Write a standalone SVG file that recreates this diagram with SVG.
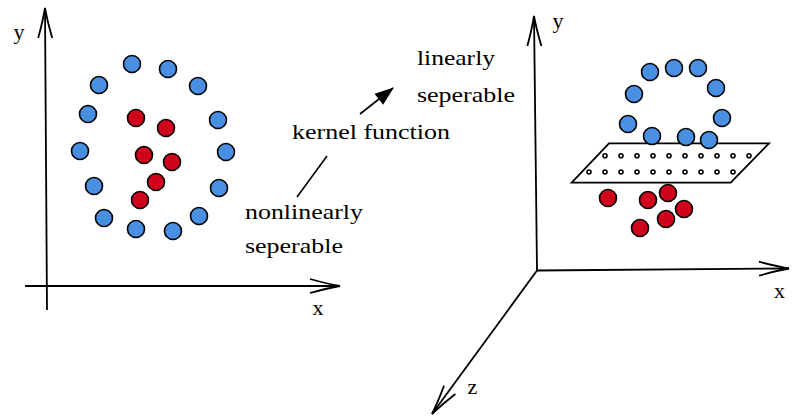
<svg xmlns="http://www.w3.org/2000/svg" width="792" height="417" viewBox="0 0 792 417">
<style>
.ax{stroke:#000;stroke-width:1.8;fill:none}
.b{fill:#4a90e2;stroke:#000;stroke-width:1.6}
.r{fill:#d0021b;stroke:#000;stroke-width:1.6}
.d{fill:#fff;stroke:#000;stroke-width:1.6}
text{font-family:'Liberation Serif','DejaVu Serif','Times New Roman',serif;font-size:22px;fill:#000}
</style>
<defs>
<marker id="chev" markerUnits="userSpaceOnUse" viewBox="-32 -9 34 18" refX="0" refY="0" markerWidth="34" markerHeight="18" orient="auto" overflow="visible">
<path d="M-30,-7 Q-12,-2 0,0 Q-12,2 -30,7" fill="none" stroke="#000" stroke-width="1.8"/>
</marker>
<marker id="tri" markerUnits="userSpaceOnUse" viewBox="-20 -8 21 16" refX="0" refY="0" markerWidth="21" markerHeight="16" orient="auto" overflow="visible">
<path d="M1,0 L-18,-7 L-18,7 Z" fill="#000"/>
</marker>
</defs>
<rect width="792" height="417" fill="#fff"/>
<g id="connectors">
<path class="ax" d="M47,310 L45,8" marker-end="url(#chev)"/>
<path class="ax" d="M25,286 L340,286" marker-end="url(#chev)"/>
<path class="ax" d="M537,270.5 L534,16" marker-end="url(#chev)"/>
<path class="ax" d="M537,270.5 L789,268.5" marker-end="url(#chev)"/>
<path class="ax" d="M537,270.5 L432,414" marker-end="url(#chev)"/>
<path d="M327,156 L297,197" stroke="#000" stroke-width="1.6"/>
<path d="M360,114 L393,88" stroke="#000" stroke-width="1.6" marker-end="url(#tri)"/>
</g>
<g id="labels">
<text x="19" y="39" text-anchor="middle">y</text>
<text x="318" y="315" text-anchor="middle">x</text>
<text x="558" y="28" text-anchor="middle">y</text>
<text x="779.5" y="297.5" text-anchor="middle">x</text>
<text x="472.5" y="393.5" text-anchor="middle">z</text>
<text x="292" y="139" textLength="158" lengthAdjust="spacingAndGlyphs">kernel function</text>
<text x="245" y="219" textLength="118" lengthAdjust="spacingAndGlyphs">nonlinearly</text>
<text x="245" y="253" textLength="98" lengthAdjust="spacingAndGlyphs">seperable</text>
<text x="417" y="65" textLength="78" lengthAdjust="spacingAndGlyphs">linearly</text>
<text x="417" y="101.5" textLength="98" lengthAdjust="spacingAndGlyphs">seperable</text>
</g>
<g id="left-blue">
<circle class="b" cx="132" cy="64" r="8.5"/>
<circle class="b" cx="168" cy="69" r="8.5"/>
<circle class="b" cx="99" cy="85" r="8.5"/>
<circle class="b" cx="198" cy="86" r="8.5"/>
<circle class="b" cx="88" cy="114" r="8.5"/>
<circle class="b" cx="218" cy="120" r="8.5"/>
<circle class="b" cx="80" cy="151" r="8.5"/>
<circle class="b" cx="226" cy="152" r="8.5"/>
<circle class="b" cx="94" cy="186" r="8.5"/>
<circle class="b" cx="219" cy="188" r="8.5"/>
<circle class="b" cx="104" cy="218" r="8.5"/>
<circle class="b" cx="199" cy="216" r="8.5"/>
<circle class="b" cx="136" cy="229" r="8.5"/>
<circle class="b" cx="173" cy="231" r="8.5"/>
</g>
<g id="left-red">
<circle class="r" cx="136" cy="118" r="8.5"/>
<circle class="r" cx="166" cy="128" r="8.5"/>
<circle class="r" cx="144" cy="155" r="8.5"/>
<circle class="r" cx="172" cy="162" r="8.5"/>
<circle class="r" cx="156" cy="182" r="8.5"/>
<circle class="r" cx="140" cy="200" r="8.5"/>
</g>
<g id="plane">
<path d="M609,143.3 L769,143.3 L730.7,182.7 L571.7,182.7 Z" fill="#fff" stroke="#000" stroke-width="1.8"/>
<g>
<circle class="d" cx="605" cy="155.7" r="2"/><circle class="d" cx="621" cy="155.7" r="2"/><circle class="d" cx="637" cy="155.7" r="2"/><circle class="d" cx="653" cy="155.7" r="2"/><circle class="d" cx="669" cy="155.7" r="2"/><circle class="d" cx="685" cy="155.7" r="2"/><circle class="d" cx="701" cy="155.7" r="2"/><circle class="d" cx="717" cy="155.7" r="2"/><circle class="d" cx="733" cy="155.7" r="2"/><circle class="d" cx="749" cy="155.7" r="2"/>
<circle class="d" cx="589" cy="172" r="2"/><circle class="d" cx="605" cy="172" r="2"/><circle class="d" cx="621" cy="172" r="2"/><circle class="d" cx="637" cy="172" r="2"/><circle class="d" cx="653" cy="172" r="2"/><circle class="d" cx="669" cy="172" r="2"/><circle class="d" cx="685" cy="172" r="2"/><circle class="d" cx="701" cy="172" r="2"/><circle class="d" cx="717" cy="172" r="2"/><circle class="d" cx="733" cy="172" r="2"/>
</g>
</g>
<g id="right-blue">
<circle class="b" cx="650" cy="72" r="8.5"/>
<circle class="b" cx="674" cy="68" r="8.5"/>
<circle class="b" cx="698" cy="68" r="8.5"/>
<circle class="b" cx="634" cy="94" r="8.5"/>
<circle class="b" cx="716" cy="88" r="8.5"/>
<circle class="b" cx="628" cy="124" r="8.5"/>
<circle class="b" cx="722" cy="118" r="8.5"/>
<circle class="b" cx="652" cy="136" r="8.5"/>
<circle class="b" cx="686" cy="137" r="8.5"/>
<circle class="b" cx="709" cy="140" r="8.5"/>
</g>
<g id="right-red">
<circle class="r" cx="608" cy="198" r="8.5"/>
<circle class="r" cx="648" cy="200" r="8.5"/>
<circle class="r" cx="668" cy="193" r="8.5"/>
<circle class="r" cx="684" cy="209" r="8.5"/>
<circle class="r" cx="666" cy="219" r="8.5"/>
<circle class="r" cx="640" cy="228" r="8.5"/>
</g>
</svg>
